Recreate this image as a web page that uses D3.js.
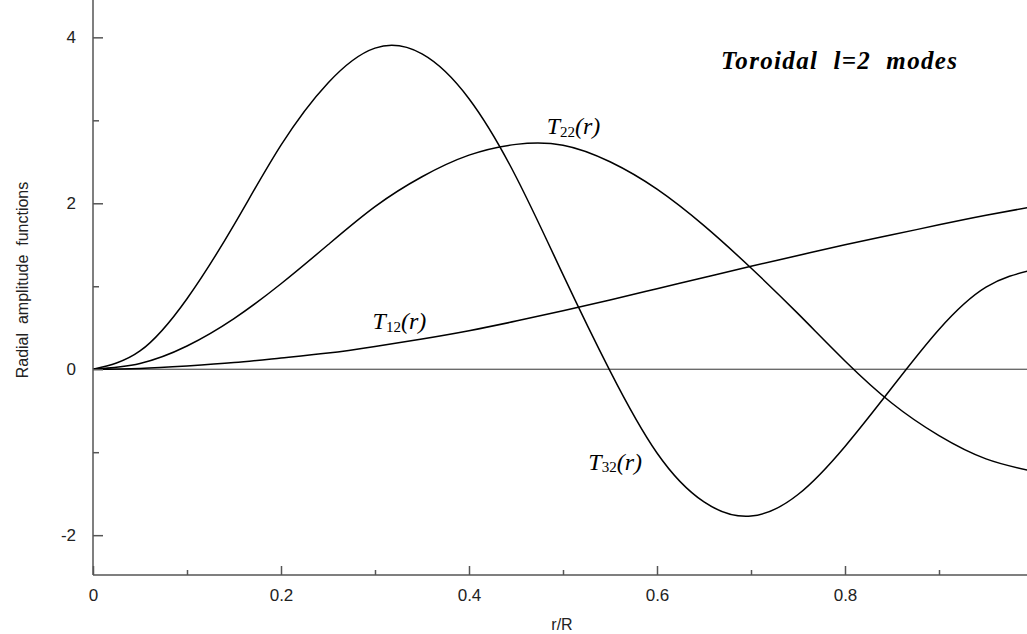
<!DOCTYPE html>
<html>
<head>
<meta charset="utf-8">
<script src="https://cdn.jsdelivr.net/npm/d3@7"></script>
<style>
  html, body { margin: 0; padding: 0; background: #fff; }
  svg { display: block; }
</style>
</head>
<body>
<svg id="chart" width="1027" height="634"></svg>
<script>
// ---- data ----
const rValues = [0, 0.05, 0.1, 0.15, 0.2, 0.25, 0.3, 0.35, 0.4, 0.45, 0.5,
                 0.55, 0.6, 0.65, 0.7, 0.75, 0.8, 0.85, 0.9, 0.95, 1.0];
const T12 = [0, 0.01, 0.04, 0.08, 0.135, 0.195, 0.275, 0.365, 0.465, 0.58, 0.705,
             0.835, 0.97, 1.105, 1.24, 1.37, 1.50, 1.62, 1.74, 1.855, 1.96];
const T22 = [0, 0.07, 0.28, 0.61, 1.03, 1.50, 1.96, 2.32, 2.58, 2.71, 2.70,
             2.50, 2.17, 1.73, 1.22, 0.67, 0.10, -0.41, -0.80, -1.08, -1.23];
const T32 = [0, 0.22, 0.85, 1.74, 2.70, 3.45, 3.87, 3.80, 3.26, 2.32, 1.14,
             -0.02, -1.01, -1.60, -1.77, -1.51, -0.93, -0.22, 0.48, 0.99, 1.20];
const xMajorTicks = [0, 0.2, 0.4, 0.6, 0.8];
const xMinorTicks = [0.1, 0.3, 0.5, 0.7, 0.9];
const yMajorTicks = [-2, 0, 2, 4];
const yMinorTicks = [-1, 1, 3];
const titleText = "Toroidal  l=2  modes";
const xLabel = "r/R";
const yLabel = "Radial  amplitude  functions";
const curveLabels = [
  { sub: "12", r: 0.2974, v: 0.48 },
  { sub: "22", r: 0.4826, v: 2.83 },
  { sub: "32", r: 0.5269, v: -1.21 }
];

// ---- layout ----
const svg = d3.select("#chart");
const x = d3.scaleLinear().domain([0, 1]).range([93, 1033]);
const y = d3.scaleLinear().domain([-2.48, 4.45]).range([575, 0]);
const axisColor = "#555";
const sans = "'Liberation Sans', Arial, sans-serif";
const serif = "'Liberation Serif', 'Times New Roman', serif";

// zero line
svg.append("line")
  .attr("x1", x(0)).attr("x2", 1027)
  .attr("y1", y(0)).attr("y2", y(0))
  .attr("stroke", "#333").attr("stroke-width", 1);

// curves
const line = d3.line()
  .x((d, i) => x(rValues[i]))
  .y(d => y(d))
  .curve(d3.curveNatural);
[T12, T22, T32].forEach(s => {
  svg.append("path")
    .attr("d", line(s))
    .attr("fill", "none")
    .attr("stroke", "#000")
    .attr("stroke-width", 1.5);
});

// x axis
const gx = svg.append("g").attr("transform", `translate(0,${y(-2.48)})`);
gx.call(d3.axisBottom(x).tickValues(xMajorTicks).tickSize(-9).tickPadding(14)
  .tickFormat(d => d === 0 ? "0" : d3.format(".1f")(d)));
gx.append("g").call(d3.axisBottom(x).tickValues(xMinorTicks).tickSize(-5).tickFormat(""))
  .select(".domain").remove();
gx.selectAll(".domain").attr("d", `M${x(0)},0H1027`);
gx.selectAll("line, path").attr("stroke", axisColor).attr("stroke-width", 1.5);
gx.selectAll("text").attr("font-family", sans).attr("font-size", 17).attr("fill", "#222");

// y axis
const gy = svg.append("g").attr("transform", `translate(${x(0)},0)`);
gy.call(d3.axisLeft(y).tickValues(yMajorTicks).tickSize(-10).tickPadding(17)
  .tickFormat(d => String(d)));
gy.append("g").call(d3.axisLeft(y).tickValues(yMinorTicks).tickSize(-6).tickFormat(""))
  .select(".domain").remove();
gy.selectAll(".domain").attr("d", `M0,0V${y(-2.48)}`);
gy.selectAll("line, path").attr("stroke", axisColor).attr("stroke-width", 1.5);
gy.selectAll("text").attr("font-family", sans).attr("font-size", 17).attr("fill", "#222");

// axis titles
svg.append("text")
  .attr("x", 562).attr("y", 630)
  .attr("text-anchor", "middle")
  .attr("font-family", sans).attr("font-size", 16).attr("fill", "#222")
  .text(xLabel);
svg.append("text")
  .attr("transform", "translate(28,280) rotate(-90)")
  .attr("text-anchor", "middle")
  .attr("font-family", sans).attr("font-size", 16).attr("fill", "#222")
  .style("white-space", "pre")
  .text(yLabel);

// chart title
svg.append("text")
  .attr("x", 721).attr("y", 69)
  .attr("font-family", serif).attr("font-size", 25)
  .attr("font-style", "italic").attr("font-weight", "bold")
  .attr("textLength", 236).attr("lengthAdjust", "spacing")
  .style("white-space", "pre")
  .text(titleText);

// curve labels
curveLabels.forEach(l => {
  const t = svg.append("text")
    .attr("x", x(l.r)).attr("y", y(l.v))
    .attr("font-family", serif).attr("font-size", 24)
    .attr("font-style", "italic").attr("fill", "#000");
  t.append("tspan").text("T");
  t.append("tspan").attr("font-size", 15).attr("dy", 2.5).attr("font-style", "normal").text(l.sub);
  t.append("tspan").attr("dy", -2.5).text("(r)");
});
</script>
</body>
</html>
